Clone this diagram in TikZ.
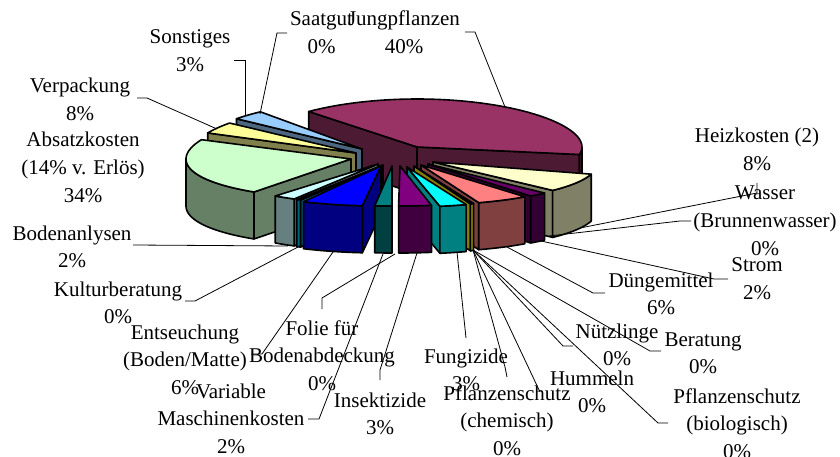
\documentclass[tikz,border=0pt]{standalone}
\usepackage{fontspec}
\setmainfont{Liberation Serif}
% slice colours (top / side)
\definecolor{jT}{HTML}{993366}\definecolor{jS}{HTML}{4D1A33}
\definecolor{hT}{HTML}{FFFFCC}\definecolor{hS}{HTML}{808066}
\definecolor{stT}{HTML}{660066}\definecolor{stS}{HTML}{330033}
\definecolor{dT}{HTML}{FF8080}\definecolor{dS}{HTML}{804040}
\definecolor{zT}{HTML}{FFFF00}\definecolor{zS}{HTML}{808000}
\definecolor{fT}{HTML}{00FFFF}\definecolor{fS}{HTML}{008080}
\definecolor{iT}{HTML}{800080}\definecolor{iS}{HTML}{400040}
\definecolor{vmT}{HTML}{008080}\definecolor{vmS}{HTML}{004040}
\definecolor{eT}{HTML}{0000FF}\definecolor{eS}{HTML}{000080}
\definecolor{kT}{HTML}{00CCFF}\definecolor{kS}{HTML}{006680}
\definecolor{bT}{HTML}{CCFFFF}\definecolor{bS}{HTML}{668080}
\definecolor{aT}{HTML}{CCFFCC}\definecolor{aS}{HTML}{668066}
\definecolor{vT}{HTML}{FFFF99}\definecolor{vS}{HTML}{80804C}
\definecolor{sT}{HTML}{99CCFF}\definecolor{sS}{HTML}{4C6680}
% rim of a slice with apex (#1,#2) at angle #3, top and bottom
\newcommand\rimpt[3]{({#1+165*cos(#3)},{#2-(44+4*sin(#3))*sin(#3)})}
\newcommand\rimlow[3]{({#1+165*cos(#3)},{#2+47-(44+4*sin(#3))*sin(#3)})}
% top face: apex x, apex y, from, to, colour
\newcommand\pieTop[5]{\filldraw[pieedge,fill=#5] (#1,#2) -- plot[domain=#3:#4,samples=50,variable=\t] ({#1+165*cos(\t)},{#2-(44+4*sin(\t))*sin(\t)}) -- cycle;}
% outer wall
\newcommand\pieSide[5]{\filldraw[pieedge,fill=#5] plot[domain=#3:#4,samples=50,variable=\t] ({#1+165*cos(\t)},{#2-(44+4*sin(\t))*sin(\t)}) -- plot[domain=#4:#3,samples=50,variable=\t] ({#1+165*cos(\t)},{#2+47-(44+4*sin(\t))*sin(\t)}) -- cycle;}
% radial cut face
\newcommand\pieCut[4]{\filldraw[pieedge,fill=#4] (#1,#2) -- \rimpt{#1}{#2}{#3} -- \rimlow{#1}{#2}{#3} -- (#1,#2+47) -- cycle;}
\newcommand\stk[1]{\begin{tabular}[t]{@{}c@{}}#1\end{tabular}}
\begin{document}
\begin{tikzpicture}[x=1pt,y=-1pt,
  pieedge/.style={draw=black,line width=1.6pt,line join=round},
  leader/.style={draw=black,line width=0.8pt},
  lab/.style={inner sep=0pt,anchor=base,font=\fontsize{21}{27.8}\selectfont}]
\useasboundingbox[fill=white] (0,0) rectangle (840,457);

% --- slices, back to front ---
% Jungpflanzen
\pieCut{417}{147}{-10}{jS}
\pieCut{417}{147}{131}{jS}
\pieSide{417}{147}{-10}{0}{jS}
\pieTop{417}{147}{-10}{131}{jT}
% Sonstiges
\pieCut{362}{149}{139.5}{sS}
\pieTop{362}{149}{128}{139.5}{sT}
% Verpackung
\pieCut{356}{153}{154}{vS}
\pieTop{356}{153}{140}{154}{vT}
% Absatzkosten
\pieCut{351}{159}{234}{aS}
\pieSide{351}{159}{180}{234}{aS}
\pieTop{351}{159}{155}{234}{aT}
% Heizkosten
\pieCut{433}{162}{316.5}{hS}
\pieSide{433}{162}{316.5}{343.5}{hS}
\pieTop{433}{162}{316.5}{343.5}{hT}
% Strom
\pieCut{428}{164}{308.5}{stS}
\pieSide{428}{164}{308.5}{315}{stS}
\pieTop{428}{164}{308.5}{315}{stT}
% Bodenanlysen
\pieCut{378}{164}{239.5}{bS}
\pieSide{378}{164}{231.5}{239.5}{bS}
\pieTop{378}{164}{231.5}{239.5}{bT}
% Kulturberatung
\pieCut{383}{165}{240}{kS}
\pieSide{383}{165}{238.5}{240}{kS}
\pieTop{383}{165}{238.5}{240}{kT}
% Duengemittel
\pieCut{421}{165}{290.5}{dS}
\pieSide{421}{165}{290.5}{309}{dS}
\pieTop{421}{165}{290.5}{309}{dT}
% Pflanzenschutz (chemisch) and the other small ones
\pieCut{414}{166}{290}{zS}
\pieSide{414}{166}{290}{291.2}{zS}
\pieTop{414}{166}{290}{291.2}{zT}
% Entseuchung
\pieCut{381}{166}{263.5}{eS}
\pieSide{381}{166}{242}{263.5}{eS}
\pieTop{381}{166}{242}{263.5}{eT}
% Fungizide
\pieCut{407}{167}{281.5}{fS}
\pieSide{407}{167}{281.5}{291}{fS}
\pieTop{407}{167}{281.5}{291}{fT}
% Insektizide
\pieSide{400}{166}{269.5}{281}{iS}
\pieTop{400}{166}{269.5}{281}{iT}
% Variable Maschinenkosten
\pieSide{392}{166}{264}{270}{vmS}
\pieTop{392}{166}{264}{270}{vmT}

% --- leader line ends ---
\coordinate (saat-s) at (260,114); \coordinate (saat-b) at (277,33); \coordinate (saat-e) at (287,33);
\coordinate (sons-s) at (245,116); \coordinate (sons-b) at (245,60); \coordinate (sons-e) at (234,60);
\coordinate (verp-s) at (217,129); \coordinate (verp-b) at (147,98); \coordinate (verp-e) at (137,98);
\coordinate (jung-s) at (505,107); \coordinate (jung-b) at (475,32); \coordinate (jung-e) at (465,32);
\coordinate (heiz-s) at (580,228); \coordinate (heiz-b) at (757,193); \coordinate (heiz-e) at (757,183);
\coordinate (wass-s) at (549,236); \coordinate (wass-b) at (680,221); \coordinate (wass-e) at (691,221);
\coordinate (strom-s) at (541,241); \coordinate (strom-b) at (714,279); \coordinate (strom-e) at (728,279);
\coordinate (dung-s) at (507,247); \coordinate (dung-b) at (593,293); \coordinate (dung-e) at (605,293);
\coordinate (null-s) at (473,250);
\coordinate (ber-b) at (650,351); \coordinate (ber-e) at (661,351);
\coordinate (nutz-b) at (563,346); \coordinate (nutz-e) at (573,346);
\coordinate (psb-b) at (658,423); \coordinate (psb-e) at (668,423);
\coordinate (humm-e) at (540,392);
\coordinate (psc-b) at (505,367); \coordinate (psc-e) at (507,377);
\coordinate (fung-s) at (457,252); \coordinate (fung-e) at (466,338);
\coordinate (ins-s) at (417,253); \coordinate (ins-b) at (380,370); \coordinate (ins-e) at (380,380);
\coordinate (fol-s) at (395,254); \coordinate (fol-b) at (322,298); \coordinate (fol-e) at (322,309);
\coordinate (vm-s) at (383,254); \coordinate (vm-b) at (319,419); \coordinate (vm-e) at (308,419);
\coordinate (ent-s) at (333,252); \coordinate (ent-b) at (262,354); \coordinate (ent-e) at (251,354);
\coordinate (kult-s) at (298,247); \coordinate (kult-b) at (195,301); \coordinate (kult-e) at (185,301);
\coordinate (bod-s) at (288,246); \coordinate (bod-e) at (133,245);

\draw[leader] (saat-s) -- (saat-b) -- (saat-e);
\draw[leader] (sons-s) -- (sons-b) -- (sons-e);
\draw[leader] (verp-s) -- (verp-b) -- (verp-e);
\draw[leader] (jung-s) -- (jung-b) -- (jung-e);
\draw[leader] (heiz-s) -- (heiz-b) -- (heiz-e);
\draw[leader] (wass-s) -- (wass-b) -- (wass-e);
\draw[leader] (strom-s) -- (strom-b) -- (strom-e);
\draw[leader] (dung-s) -- (dung-b) -- (dung-e);
\draw[leader] (null-s) -- (ber-b) -- (ber-e);
\draw[leader] (null-s) -- (nutz-b) -- (nutz-e);
\draw[leader] (null-s) -- (psb-b) -- (psb-e);
\draw[leader] (null-s) -- (humm-e);
\draw[leader] (null-s) -- (psc-b) -- (psc-e);
\draw[leader] (fung-s) -- (fung-e);
\draw[leader] (ins-s) -- (ins-b) -- (ins-e);
\draw[leader] (fol-s) -- (fol-b) -- (fol-e);
\draw[leader] (vm-s) -- (vm-b) -- (vm-e);
\draw[leader] (ent-s) -- (ent-b) -- (ent-e);
\draw[leader] (kult-s) -- (kult-b) -- (kult-e);
\draw[leader] (bod-s) -- (bod-e);

% --- labels ---
\node[lab] (lb-saat) at (321.5,26) {\stk{Saatgut\\0\%}};
\node[lab] (lb-jung) at (404,26) {\stk{Jungpflanzen\\40\%}};
\node[lab] (lb-sons) at (190,44) {\stk{Sonstiges\\3\%}};
\node[lab] (lb-verp) at (80,93) {\stk{Verpackung\\8\%}};
\node[lab] (lb-abs) at (83,147) {\stk{Absatzkosten\\(14\% v. Erlös)\\34\%}};
\node[lab] (lb-heiz) at (757,143) {\stk{Heizkosten (2)\\8\%}};
\node[lab] (lb-wass) at (765,200) {\stk{Wasser\\(Brunnenwasser)\\0\%}};
\node[lab] (lb-strom) at (757,271.5) {\stk{Strom\\2\%}};
\node[lab] (lb-dung) at (661,287) {\stk{Düngemittel\\6\%}};
\node[lab] (lb-bod) at (72,240) {\stk{Bodenanlysen\\2\%}};
\node[lab] (lb-kult) at (118,296) {\stk{Kulturberatung\\0\%}};
\node[lab] (lb-ent) at (185,339) {\stk{Entseuchung\\(Boden/Matte)\\6\%}};
\node[lab] (lb-vm) at (231,398) {\stk{Variable\\Maschinenkosten\\2\%}};
\node[lab] (lb-fol) at (322,335) {\stk{Folie für\\Bodenabdeckung\\0\%}};
\node[lab] (lb-ins) at (380,407) {\stk{Insektizide\\3\%}};
\node[lab] (lb-fung) at (466,363) {\stk{Fungizide\\3\%}};
\node[lab] (lb-psc) at (507,400) {\stk{Pflanzenschutz\\(chemisch)\\0\%}};
\node[lab] (lb-humm) at (592,385) {\stk{Hummeln\\0\%}};
\node[lab] (lb-nutz) at (617,338) {\stk{Nützlinge\\0\%}};
\node[lab] (lb-ber) at (703,346) {\stk{Beratung\\0\%}};
\node[lab] (lb-psb) at (737,403) {\stk{Pflanzenschutz\\(biologisch)\\0\%}};
\end{tikzpicture}
\end{document}
